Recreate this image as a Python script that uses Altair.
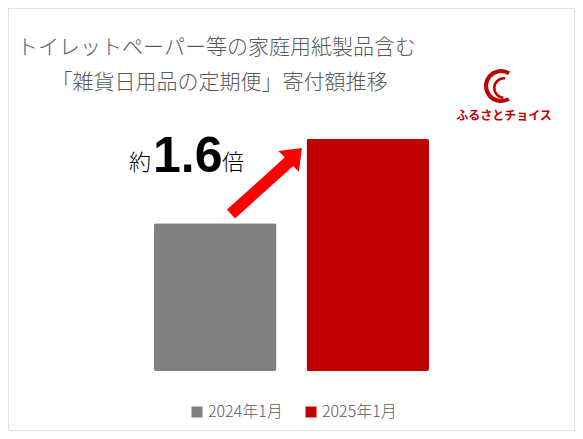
import altair as alt
import pandas as pd

# ---- data ----
periods = ["2024年1月", "2025年1月"]
values = [100, 157]          # relative donation amount (about 1.6x)
colors = ["#808080", "#C00000"]

title_lines = ["トイレットペーパー等の家庭用紙製品含む", "「雑貨日用品の定期便」寄付額推移"]
ratio_prefix = "約"
ratio_value = "1.6"
ratio_suffix = "倍"
logo_text = "ふるさとチョイス"

JP = "Noto Sans CJK JP"
W, H = 567, 423

df = pd.DataFrame({"period": periods, "value": values})
one = pd.DataFrame({"a": [0]})

bars = alt.Chart(df).mark_bar(cornerRadius=2).encode(
    x=alt.X("period:N", axis=None,
            scale=alt.Scale(domain=periods, range=[146, 421], paddingInner=0.197, paddingOuter=0)),
    y=alt.Y("value:Q", axis=None,
            scale=alt.Scale(domain=[0, 157], range=[363, 131], nice=False, zero=True)),
    color=alt.Color("period:N",
                    scale=alt.Scale(domain=periods, range=colors),
                    legend=alt.Legend(orient="none", legendX=181, legendY=396,
                                      direction="horizontal", title=None,
                                      symbolType="square", symbolSize=121,
                                      symbolStrokeWidth=0, symbolOpacity=1,
                                      labelFont=JP, labelFontSize=16, labelFontWeight=300,
                                      labelColor="#595959", labelOffset=3,
                                      columnPadding=20, padding=0)),
)

base = alt.Chart(one)

arrow_shaft = base.mark_rule(color="#FF0000", strokeWidth=12, strokeCap="butt").encode(
    x=alt.value(223), y=alt.value(206), x2=alt.value(284), y2=alt.value(151))
arrow_head = base.mark_point(shape="M0,-1L1,0.3L-1,0.3Z", filled=True, color="#FF0000",
                             opacity=1, size=841, angle=45, strokeWidth=0).encode(
    x=alt.value(283.7), y=alt.value(150.3))

t1 = base.mark_text(text=title_lines[0], font=JP, fontSize=21, fontWeight=300, color="#595959",
                    align="center", baseline="middle").encode(x=alt.value(208.5), y=alt.value(40))
t2 = base.mark_text(text=title_lines[1], font=JP, fontSize=21, fontWeight=300, color="#595959",
                    align="center", baseline="middle").encode(x=alt.value(211.5), y=alt.value(75))

r1 = base.mark_text(text=ratio_prefix, font=JP, fontSize=22, fontWeight=300, color="#000000",
                    align="left", baseline="alphabetic").encode(x=alt.value(121), y=alt.value(162))
r2 = base.mark_text(text=ratio_value, font="Liberation Sans", fontSize=50, fontWeight="bold",
                    color="#000000", align="left", baseline="alphabetic").encode(
    x=alt.value(145), y=alt.value(164))
r3 = base.mark_text(text=ratio_suffix, font=JP, fontSize=22, fontWeight=300, color="#000000",
                    align="left", baseline="alphabetic").encode(x=alt.value(214), y=alt.value(162))

logo_outer = base.mark_arc(color="#C00000", theta=2.6, theta2=6.85, radius=17, radius2=13).encode(
    x=alt.value(493), y=alt.value(78))
logo_inner = base.mark_arc(color="#C00000", theta=3.2, theta2=6.4, radius=11, radius2=8.5).encode(
    x=alt.value(496), y=alt.value(80))
logo_t = base.mark_text(text=logo_text, font=JP, fontSize=12, fontWeight="bold", color="#C00000",
                        align="center", baseline="middle").encode(x=alt.value(496), y=alt.value(108))

chart = alt.layer(bars, arrow_shaft, arrow_head, t1, t2, r1, r2, r3,
                  logo_outer, logo_inner, logo_t).properties(
    width=W, height=H, autosize=alt.AutoSizeParams(type="none"), padding=0,
    background="#FFFFFF"
).configure_view(stroke="#D9D9D9", strokeWidth=1.5)

chart.save("out.html", embed_options={"renderer": "svg", "actions": False})
